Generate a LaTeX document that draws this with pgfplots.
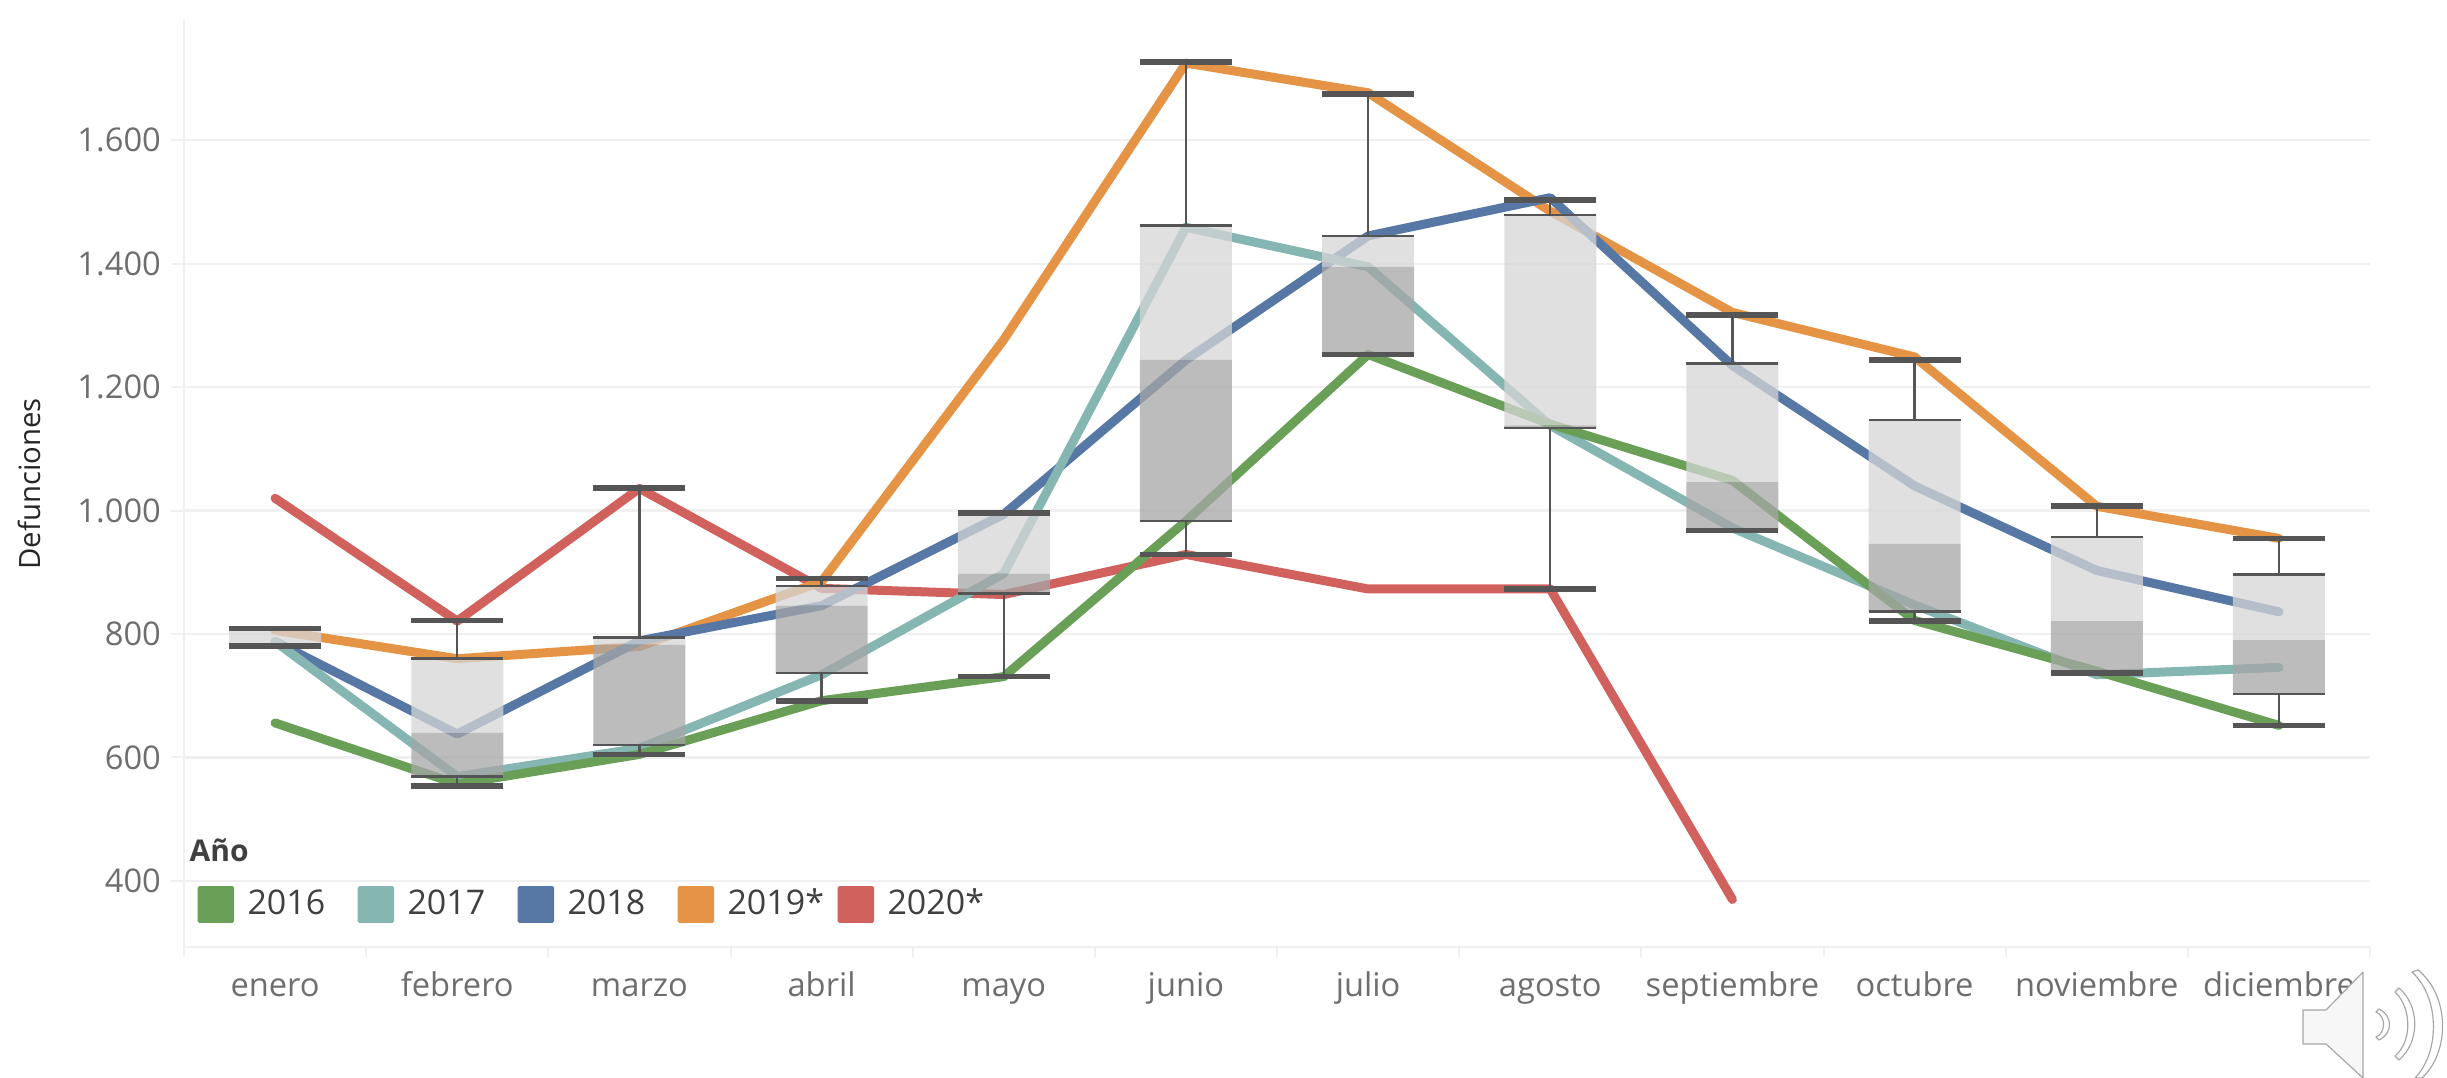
\documentclass[border=0pt]{standalone}
\usepackage{fontspec}
\setmainfont{Open Sans}
\usepackage{pgfplots}
\usepackage{pgfplotstable}
\pgfplotsset{compat=1.18}

\definecolor{cA}{HTML}{6A9F58}
\definecolor{cB}{HTML}{85B6B2}
\definecolor{cC}{HTML}{5778A4}
\definecolor{cD}{HTML}{E49444}
\definecolor{cE}{HTML}{D1615D}
\definecolor{gridc}{HTML}{F0F0F0}
\definecolor{tickc}{HTML}{6E6E6E}
\definecolor{boxc}{HTML}{555555}
\definecolor{boxlight}{HTML}{D6D6D6}
\definecolor{boxdark}{HTML}{A6A6A6}

\pgfplotstableread{
i  y16  y17  y18  y19  y20
0  656  788  788  806  1020
1  557  569  638  760  821
2  605  615  789  780  1036
3  692  734  846  885  874
4  731  898  994  1277 864
5  983  1459 1244 1725 929
6  1253 1395 1445 1677 873
7  1140 1138 1507 1485 873
8  1049 972  1235 1321 370
9  822  847  1040 1249 nan
10 740  734  903  1007 nan
11 652  746  836  955  nan
}\lines

\pgfplotstableread{
i  q0   q1   med  q3   q4
0  781  781  784  807  809
1  554  569  640  760  822
2  605  620  783  794  1037
3  692  737  846  878  890
4  731  866  898  994  996
5  929  983  1244 1462 1727
6  1253 1254 1395 1445 1675
7  873  1134 1138 1479 1503
8  968  969  1046 1238 1317
9  821  836  946  1147 1244
10 737  738  821  957  1007
11 652  703  790  897  955
}\boxes

\pgfplotsset{
  base/.style={
    at={(55.2pt,39.3pt)}, anchor=south west,
    scale only axis, width=655.8pt, height=278.4pt,
    xmin=-0.5, xmax=11.5, ymin=293, ymax=1796.5,
  },
  cap/.style={only marks, mark=-, mark size=13.8pt,
    mark options={draw=boxc, line width=#1}},
  linea/.style={line width=2.7pt, line cap=round, line join=round, mark=none},
}

\begin{document}
\begin{tikzpicture}
\path[use as bounding box] (0,0) rectangle (734.1pt,323.4pt);

\begin{axis}[base,
    axis x line*=bottom, axis y line*=left,
    axis line style={gridc, line width=0.6pt},
    xtick={0,...,11},
    xticklabels={enero,febrero,marzo,abril,mayo,junio,julio,agosto,septiembre,octubre,noviembre,diciembre},
    typeset ticklabels with strut,
    minor xtick={-0.5,0.5,...,11.5},
    major x tick style={draw=none},
    minor tick length=3pt,
    minor x tick style={gridc, line width=0.6pt},
    tick align=outside,
    ytick={400,600,...,1600},
    major tick length=3.9pt,
    y tick style={gridc, line width=0.6pt},
    ymajorgrids, grid style={gridc, line width=0.7pt},
    /pgf/number format/.cd, 1000 sep={.}, assume math mode=true, /tikz/.cd,
    tick label style={font=\fontsize{9.8}{11}\selectfont, text=tickc},
    yticklabel style={xshift=0.5pt, yshift=-1.3pt},
    xticklabel style={yshift=0.3pt},
    unbounded coords=jump,
    reverse legend,
    legend columns=5,
    legend cell align=left,
    legend style={at={(axis description cs:0.0062,0.0655)}, anchor=north west,
      draw=none, fill=none, inner sep=0pt, outer sep=0pt,
      font=\fontsize{10.2}{11}\selectfont, text=black!75,
      nodes={text width=28.5pt, inner xsep=0pt, inner ysep=0pt},
      /tikz/every odd column/.append style={column sep=4pt},
      /tikz/every even column/.append style={column sep=4.5pt}},
    legend image code/.code={\fill[#1, draw=none, rounded corners=0.5pt] (0pt,-5.5pt) rectangle (11pt,5.5pt);},
]
\addplot[cE, linea] table[x=i, y=y20] {\lines};
\addlegendentry{2020*}
\addplot[cD, linea] table[x=i, y=y19] {\lines};
\addlegendentry{2019*}
\addplot[cC, linea] table[x=i, y=y18] {\lines};
\addlegendentry{2018}
\addplot[cB, linea] table[x=i, y=y17] {\lines};
\addlegendentry{2017}
\addplot[cA, linea] table[x=i, y=y16] {\lines};
\addlegendentry{2016}
\end{axis}

% boxes go over the lines, half see-through
\begin{axis}[base, hide axis, ybar stacked, bar width=27.6pt]
\addplot[draw=none, fill=none] table[x=i, y=q1] {\boxes};
\addplot[draw=none, fill=boxdark, fill opacity=0.75] table[x=i, y expr=\thisrow{med}-\thisrow{q1}] {\boxes};
\addplot[draw=none, fill=boxlight, fill opacity=0.75] table[x=i, y expr=\thisrow{q3}-\thisrow{med}] {\boxes};
\end{axis}

% whiskers and caps
\begin{axis}[base, hide axis]
\addplot[draw=none, mark=none, forget plot,
    error bars/.cd, y dir=plus, y explicit, error mark=none,
    error bar style={boxc, line width=0.7pt}]
    table[x=i, y=q3, y error expr=\thisrow{q4}-\thisrow{q3}] {\boxes};
\addplot[draw=none, mark=none, forget plot,
    error bars/.cd, y dir=minus, y explicit, error mark=none,
    error bar style={boxc, line width=0.7pt}]
    table[x=i, y=q1, y error expr=\thisrow{q1}-\thisrow{q0}] {\boxes};
\addplot[cap=1.7pt] table[x=i, y=q4] {\boxes};
\addplot[cap=1.7pt] table[x=i, y=q0] {\boxes};
\addplot[cap=0.8pt] table[x=i, y=q3] {\boxes};
\addplot[cap=0.8pt] table[x=i, y=q1] {\boxes};
\end{axis}

\begin{scope}[shift={(0,323.4pt)}, x=0.3pt, y=-0.3pt]
  \node[anchor=west, font=\fontsize{9}{11}\selectfont\bfseries, text=black!75, inner sep=0pt] at (189,850) {Año};
  \node[rotate=90, font=\fontsize{8.8}{11}\selectfont, text=black!85, inner sep=0pt] at (29,484) {Defunciones};
  % speaker icon
  \filldraw[draw=black!35, fill=white!97!black, line width=0.35pt, line join=round]
    (2303,1010) -- (2326,1010) -- (2363,972) -- (2363,1078) -- (2326,1044) -- (2303,1044) -- cycle;
  \begin{scope}[draw=black!35, fill=white, line width=0.35pt, line join=round]
    \filldraw (2376,1012) .. controls (2386,1016) and (2386,1033) .. (2376,1037)
              -- (2379,1040) .. controls (2393,1033) and (2393,1016) .. (2379,1009) -- cycle;
    \filldraw (2395,992) .. controls (2412,1008) and (2412,1042) .. (2395,1056)
              -- (2399,1060) .. controls (2420,1042) and (2420,1006) .. (2399,988) -- cycle;
    \filldraw (2412,972) .. controls (2440,998) and (2440,1052) .. (2415,1078)
              -- (2422,1078) .. controls (2450,1052) and (2450,996) .. (2418,970) -- cycle;
  \end{scope}
\end{scope}
\end{tikzpicture}
\end{document}
